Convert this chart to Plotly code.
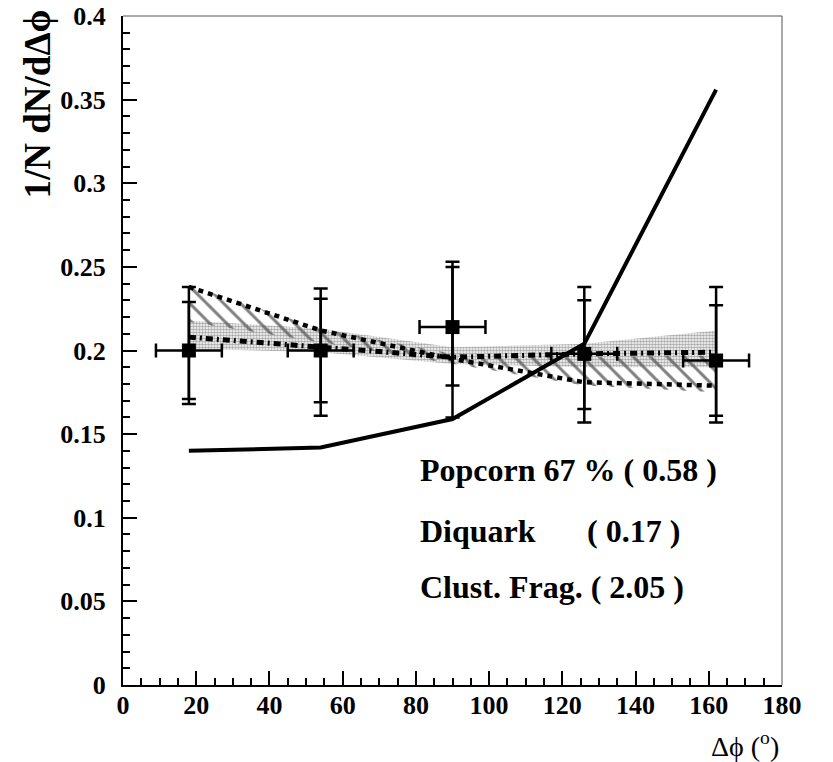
import plotly.graph_objects as go

# ---- data ----
x_pts = [18, 54, 90, 126, 162]
x_half = [9, 9, 9, 9, 9]
y_pts = [0.200, 0.200, 0.214, 0.198, 0.194]
y_tot_hi = [0.238, 0.237, 0.253, 0.238, 0.238]
y_tot_lo = [0.168, 0.161, 0.160, 0.157, 0.157]
y_stat_hi = [0.229, 0.231, 0.250, 0.230, 0.227]
y_stat_lo = [0.171, 0.169, 0.179, 0.165, 0.161]

x_model = [18, 54, 90, 126, 162]
popcorn = [0.238, 0.212, 0.195, 0.181, 0.179]
popcorn_hi = [0.239, 0.213, 0.198, 0.196, 0.197]
popcorn_lo = [0.217, 0.205, 0.192, 0.179, 0.175]
diquark = [0.208, 0.202, 0.196, 0.198, 0.199]
diquark_hi = [0.218, 0.213, 0.202, 0.204, 0.212]
diquark_lo = [0.201, 0.199, 0.192, 0.190, 0.190]
cluster = [0.140, 0.142, 0.159, 0.204, 0.356]

x_ticks = [0, 20, 40, 60, 80, 100, 120, 140, 160, 180]
y_ticks = [0, 0.05, 0.1, 0.15, 0.2, 0.25, 0.3, 0.35, 0.4]
y_tick_labels = ["0", "0.05", "0.1", "0.15", "0.2", "0.25", "0.3", "0.35", "0.4"]

labels = ["Popcorn 67 % ( 0.58 )", "Diquark", "( 0.17 )", "Clust. Frag. ( 2.05 )"]

FONT = "Liberation Serif"

fig = go.Figure()

# hatched band (popcorn)
fig.add_trace(go.Scatter(
    x=x_model + x_model[::-1], y=popcorn_hi + popcorn_lo[::-1],
    fill="toself", mode="lines", line=dict(width=0),
    fillcolor="rgba(0,0,0,0)",
    fillpattern=dict(shape="\\", fgcolor="black", bgcolor="rgba(0,0,0,0)",
                     size=12, solidity=0.25),
    showlegend=False, hoverinfo="skip"))

# stippled band (diquark)
fig.add_trace(go.Scatter(
    x=x_model + x_model[::-1], y=diquark_hi + diquark_lo[::-1],
    fill="toself", mode="lines", line=dict(width=0),
    fillcolor="rgba(0,0,0,0)",
    fillpattern=dict(shape=".", fgcolor="#555555", bgcolor="rgba(0,0,0,0)",
                     size=3, solidity=0.6),
    showlegend=False, hoverinfo="skip"))

# model lines
fig.add_trace(go.Scatter(x=x_model, y=popcorn, mode="lines",
                         line=dict(color="black", width=4.5, dash="5px,5px"),
                         showlegend=False))
fig.add_trace(go.Scatter(x=x_model, y=diquark, mode="lines",
                         line=dict(color="black", width=5, dash="7px,4px,2px,4px"),
                         showlegend=False))

# data: stat error bars (inner)
fig.add_trace(go.Scatter(
    x=x_pts, y=y_pts, mode="markers",
    marker=dict(size=1, color="rgba(0,0,0,0)"),
    error_y=dict(type="data", symmetric=False,
                 array=[h - y for h, y in zip(y_stat_hi, y_pts)],
                 arrayminus=[y - l for l, y in zip(y_stat_lo, y_pts)],
                 color="black", thickness=2.5, width=7),
    showlegend=False))

# data: total error bars + x bins
fig.add_trace(go.Scatter(
    x=x_pts, y=y_pts, mode="markers",
    marker=dict(symbol="square", size=14, color="black"),
    error_y=dict(type="data", symmetric=False,
                 array=[h - y for h, y in zip(y_tot_hi, y_pts)],
                 arrayminus=[y - l for l, y in zip(y_tot_lo, y_pts)],
                 color="black", thickness=2.5, width=7),
    error_x=dict(type="data", array=x_half, color="black", thickness=2.5, width=7),
    showlegend=False))

# cluster fragmentation (solid)
fig.add_trace(go.Scatter(x=x_model, y=cluster, mode="lines",
                         line=dict(color="black", width=4), showlegend=False))

tickfont = dict(family=FONT, size=26, color="black", weight="bold")

fig.update_layout(
    width=833, height=762,
    margin=dict(l=123, r=51, t=16, b=77),
    plot_bgcolor="white", paper_bgcolor="white",
    xaxis=dict(range=[0, 180], tickvals=x_ticks, ticktext=[str(v) for v in x_ticks],
               ticks="inside", ticklen=14, tickwidth=1.5, tickcolor="black",
               minor=dict(dtick=5, ticks="inside", ticklen=7, tickwidth=1.5, tickcolor="black"),
               showline=True, linewidth=2, linecolor="black", mirror=False,
               showgrid=False, zeroline=False, tickfont=tickfont,
               ticklabelstandoff=-4, automargin=False),
    yaxis=dict(range=[0, 0.4], tickvals=y_ticks, ticktext=y_tick_labels,
               ticks="inside", ticklen=14, tickwidth=1.5, tickcolor="black",
               minor=dict(dtick=0.01, ticks="inside", ticklen=7, tickwidth=1.5, tickcolor="black"),
               showline=True, linewidth=2, linecolor="black", mirror=False,
               showgrid=False, zeroline=False, tickfont=tickfont,
               ticklabelstandoff=10, automargin=False),
)

# thin frame on top and right
fig.add_shape(type="line", xref="paper", yref="paper", x0=1, x1=1, y0=0, y1=1,
              line=dict(color="#555555", width=1))
fig.add_shape(type="line", xref="paper", yref="paper", x0=0, x1=1, y0=1, y1=1,
              line=dict(color="#555555", width=1))

ann_font = dict(family=FONT, size=32, color="black", weight="bold")
fig.add_annotation(x=80.6, y=0.1286, xref="x", yref="y", text=labels[0],
                   showarrow=False, xanchor="left", yanchor="middle", font=ann_font)
fig.add_annotation(x=80.6, y=0.092, xref="x", yref="y", text=labels[1],
                   showarrow=False, xanchor="left", yanchor="middle", font=ann_font)
fig.add_annotation(x=126.2, y=0.092, xref="x", yref="y", text=labels[2],
                   showarrow=False, xanchor="left", yanchor="middle", font=ann_font)
fig.add_annotation(x=80.6, y=0.0586, xref="x", yref="y", text=labels[3],
                   showarrow=False, xanchor="left", yanchor="middle", font=ann_font)

# axis titles
fig.add_annotation(x=(37 - 123) / 659, y=(685 - 8) / 669, xref="paper", yref="paper",
                   text="1/N dN/dΔϕ", textangle=-90, showarrow=False,
                   xanchor="center", yanchor="top",
                   font=dict(family=FONT, size=37, color="black", weight="bold"))
fig.add_annotation(x=(781 - 123) / 659, y=(685 - 744) / 669, xref="paper", yref="paper",
                   text="Δϕ (<sup>o</sup>)", showarrow=False,
                   xanchor="right", yanchor="middle",
                   font=dict(family=FONT, size=28, color="black"))

fig.write_html("out.html", config={"displayModeBar": False},
               post_script="document.body.style.margin='0px';")
